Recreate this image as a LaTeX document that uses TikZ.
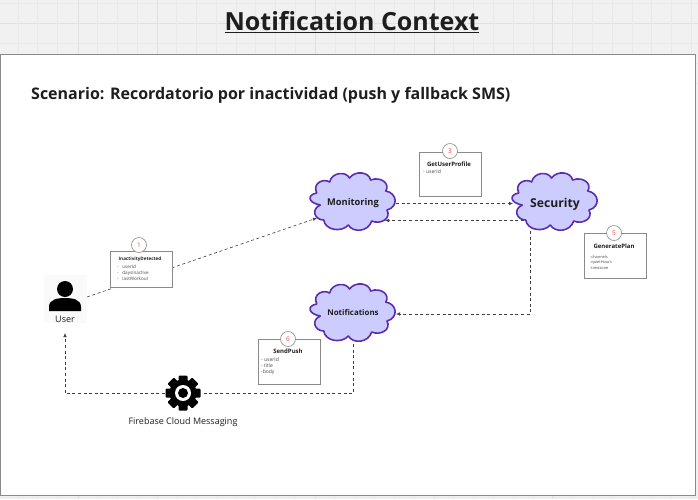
\documentclass[tikz,border=0pt]{standalone}
\usepackage{fontspec}
\setmainfont{Open Sans}
\usetikzlibrary{arrows.meta}
\definecolor{cloudfill}{HTML}{CCCCFF}
\definecolor{cloudline}{HTML}{5B2DB0}
\definecolor{boxline}{HTML}{8A8A8A}
\definecolor{ink}{HTML}{1E1E1E}
\definecolor{numred}{HTML}{F04545}
\definecolor{gridc}{HTML}{E9E9E9}
\definecolor{gridm}{HTML}{E0E0E0}
\definecolor{bandc}{HTML}{F1F1F1}
\tikzset{
  x=1pt,y=-1pt,
  conn/.style={draw=ink!85,line width=0.6pt,dash pattern=on 3pt off 2.6pt,-{Latex[length=4pt,width=3.5pt]}},
  cloudpath/.style={draw=cloudline,fill=cloudfill,line width=1.6pt,line join=round},
  cardbox/.style={draw=boxline,fill=white,line width=0.8pt,minimum width=0pt},
  numc/.style={circle,draw=boxline,fill=white,line width=0.6pt,minimum size=15pt,inner sep=0pt,text=numred,font=\fontsize{6.5}{7}\selectfont},
  cardtitle/.style={font=\fontsize{6}{7}\selectfont\bfseries,text=ink,inner sep=0pt},
  cardtext/.style={font=\fontsize{4.6}{6.5}\selectfont,text=ink!80,inner sep=0pt,align=left,anchor=north west},
  cloudlabel/.style={font=\fontsize{9.3}{11}\selectfont\bfseries,text=ink,inner sep=0pt}
}
\newcommand{\cloudshape}[2]{%
  \begin{scope}[shift={(#1,#2)},xscale=1.17]
  \path[cloudpath] (-31,-10)
   .. controls (-35,-20) and (-25,-25) .. (-20,-21)
   .. controls (-18,-31) and (-6,-32) .. (-3,-25)
   .. controls (2,-33) and (14,-31) .. (15,-23)
   .. controls (24,-27) and (32,-19) .. (28,-12)
   .. controls (38,-10) and (39,4) .. (29,7)
   .. controls (33,15) and (24,22) .. (16,18)
   .. controls (13,29) and (0,30) .. (-4,22)
   .. controls (-10,30) and (-24,27) .. (-25,17)
   .. controls (-33,17) and (-36,6) .. (-28,2)
   .. controls (-38,0) and (-40,-8) .. (-31,-10) -- cycle;
  \end{scope}}
\begin{document}
\begin{tikzpicture}
\useasboundingbox (0,0) rectangle (698,499);
\fill[bandc] (0,0) rectangle (698,499);
% background grid
\foreach \k in {3,43,63,83} \draw[gridc,line width=0.5pt] (0,\k) -- (698,\k);
\draw[gridm,line width=0.8pt] (0,23) -- (698,23);
\draw[gridc,line width=0.5pt] (0,497) -- (698,497);
\foreach \k in {-2,18,37,57,97,117,137,176,196,216,236,255,275,295,335,355,374,394,414,453,473,493,513,533,572,592,612,632,651,671,691} \draw[gridc,line width=0.5pt] (\k,0) -- (\k,499);
\foreach \k in {78,157,315,434,552} \draw[gridm,line width=0.8pt] (\k,0) -- (\k,499);
\node[font=\fontsize{25}{28}\selectfont\bfseries,text=ink,inner sep=0pt] (title) at (352,22) {\underline{Notification Context}};
\path[draw=boxline,fill=white,line width=0.9pt] (0,54) rectangle (695,495);
\node[font=\fontsize{16}{18}\selectfont\bfseries,text=ink,inner sep=0pt,anchor=west] (scen) at (31,95.5) {Scenario: Recordatorio por inactividad (push y fallback SMS)};
% clouds
\cloudshape{353}{203}
\cloudshape{555}{203}
\cloudshape{353}{314}
\node[cloudlabel] (mon) at (353,203) {Monitoring};
\node[cloudlabel,font=\fontsize{12.2}{14}\selectfont\bfseries] (sec) at (555,204) {Security};
\node[cloudlabel,font=\fontsize{7.9}{9}\selectfont\bfseries] (not) at (353,313) {Notifications};
% anchors
\coordinate (monE1) at (396,203.5);
\coordinate (secW1) at (513,203.5);
\coordinate (secW2) at (524,220.5);
\coordinate (monE2) at (385,220.5);
\coordinate (secS) at (530.5,231);
\coordinate (notE) at (396,314);
\coordinate (corner1) at (530.5,314);
\coordinate (notS) at (353,344);
\coordinate (corner2) at (353,393.5);
\coordinate (corner3) at (65,393.5);
\coordinate (userN) at (65,333);
\coordinate (userE) at (87,297);
\coordinate (monW) at (317,218);
% User
\fill[white!98!black] (44,275) rectangle (87,323);
\node[font=\fontsize{9}{11}\selectfont,text=ink,inner sep=0pt] (user) at (65,319) {User};
\fill[black] (65,289) circle (8);
\fill[black] (49,311) -- (49,307) .. controls (49,299) and (58,298) .. (65,298) .. controls (72,298) and (81,299) .. (81,307) -- (81,311) -- cycle;
% gear
\coordinate (gear) at (183,393);
\fill[white] (165,375) rectangle (201,411);
\fill[black] (gear) circle (13.5);
\foreach \a in {0,45,...,315} \fill[black,rounded corners=1pt,rotate around={\a:(gear)}] (178.5,375.5) rectangle (187.5,384);
\fill[white] (gear) circle (8);
\fill[black] (gear) circle (5);
\node[font=\fontsize{9}{11}\selectfont,text=ink,inner sep=0pt] (fcm) at (183,422) {Firebase Cloud Messaging};
% connectors
\draw[conn] (monE1) -- (secW1);
\draw[conn] (secW2) -- (monE2);
\draw[conn] (secS) -- (corner1) -- (notE);
\draw[conn,-] (notS) -- (corner2) -- (201,393.5);
\draw[conn] (165,393.5) -- (corner3) -- (userN);
\draw[conn] (userE) -- (monW);
% cards
\node[cardbox,minimum width=62pt,minimum height=36pt,anchor=north west,inner sep=0pt] (c1) at (110,251) {};
\node[numc] (n1) at (139,245) {1};
\node[cardtitle,font=\fontsize{4.6}{6}\selectfont\bfseries] at (140,259) {InactivityDetected};
\node[cardtext] at (117,265) {-\hspace{2.5pt} userId\\[-0.6pt]-\hspace{2.5pt} daysInactive\\[-0.6pt]-\hspace{2.5pt} lastWorkout};
\node[cardbox,minimum width=62pt,minimum height=44pt,anchor=north west,inner sep=0pt] (c3) at (419,152) {};
\node[numc] (n3) at (450,151) {3};
\node[cardtitle] at (449,164) {GetUserProfile};
\node[cardtext,font=\fontsize{5}{6.5}\selectfont] at (423,169) {- userId};
\node[cardbox,minimum width=62pt,minimum height=45pt,anchor=north west,inner sep=0pt] (c5) at (584,233) {};
\node[numc] (n5) at (614,233) {5};
\node[cardtitle] at (614,246) {GeneratePlan};
\node[cardtext,font=\fontsize{3.9}{5.5}\selectfont] at (590,255) {-channels\\-quietHours\\-timezone};
\node[cardbox,minimum width=62pt,minimum height=45pt,anchor=north west,inner sep=0pt] (c6) at (258,339) {};
\node[numc] (n6) at (288,339) {6};
\node[cardtitle] at (288,351) {SendPush};
\node[cardtext,font=\fontsize{5}{6.5}\selectfont] at (261,357.5) {- userId\\[-0.4pt]- title\\[-0.4pt]-body};
\end{tikzpicture}
\end{document}
